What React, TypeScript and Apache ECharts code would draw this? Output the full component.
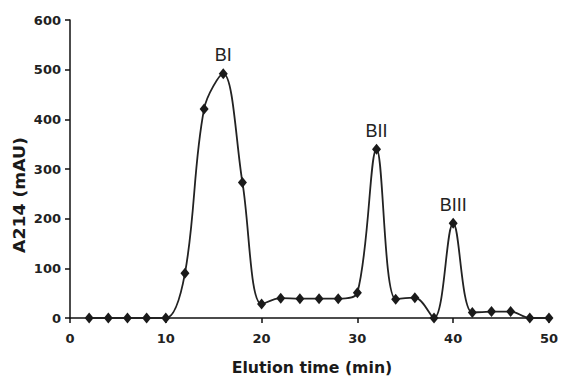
import React, { useEffect, useRef } from "react";
import * as echarts from "echarts";

const timeMin = [2, 4, 6, 8, 10, 12, 14, 16, 18, 20, 22, 24, 26, 28, 30, 32, 34, 36, 38, 40, 42, 44, 46, 48, 50];
const absorbance = [0, 0, 0, 0, 0, 90, 421, 492, 273, 28, 40, 39, 39, 39, 51, 340, 38, 41, 0, 191, 11, 13, 13, 0, 0];
const peakLabels: { [k: number]: string } = { 16: "BI", 32: "BII", 40: "BIII" };
const xTicks = [0, 10, 20, 30, 40, 50];
const yTicks = [0, 100, 200, 300, 400, 500, 600];

export default function App() {
  const ref = useRef<HTMLDivElement>(null);
  useEffect(() => {
    if (!ref.current) return;
    const chart = echarts.init(ref.current, null, { renderer: "svg" });
    const data = timeMin.map((t, i) => {
      const lbl = peakLabels[t];
      const item: any = { value: [t, absorbance[i]] };
      if (lbl) {
        item.label = {
          show: true,
          position: "top",
          distance: 4,
          formatter: lbl,
          fontFamily: "Liberation Sans, Arial, sans-serif",
          fontSize: 18,
          color: "#222",
        };
      }
      return item;
    });
    const labelStyle = {
      fontFamily: "DejaVu Sans, sans-serif",
      fontWeight: "bold" as const,
      fontSize: 13,
      color: "#222",
    };
    chart.setOption({
      animation: false,
      backgroundColor: "#fff",
      grid: { left: 70, right: 9, top: 20, bottom: 60, containLabel: false },
      xAxis: {
        type: "value",
        min: xTicks[0],
        max: xTicks[xTicks.length - 1],
        interval: 10,
        axisLine: { show: true, onZero: false, lineStyle: { color: "#111", width: 1.5 } },
        axisTick: { show: true, length: 5, lineStyle: { color: "#111", width: 1.5 } },
        axisLabel: { ...labelStyle, margin: 14 },
        splitLine: { show: false },
      },
      yAxis: {
        type: "value",
        min: yTicks[0],
        max: yTicks[yTicks.length - 1],
        interval: 100,
        axisLine: { show: true, lineStyle: { color: "#111", width: 1.5 } },
        axisTick: { show: true, length: 5, lineStyle: { color: "#111", width: 1.5 } },
        axisLabel: { ...labelStyle, margin: 9 },
        splitLine: { show: false },
      },
      series: [
        {
          type: "line",
          data,
          smooth: 0.35,
          symbol: "diamond",
          symbolSize: [9, 11],
          itemStyle: { color: "#1a1a1a" },
          lineStyle: { color: "#222", width: 1.8 },
        },
      ],
      graphic: [
        {
          type: "text",
          x: 312,
          y: 368,
          scaleX: 1.05,
          style: {
            text: "Elution time (min)",
            fontFamily: "DejaVu Sans, sans-serif",
            fontWeight: "bold",
            fontSize: 15,
            fill: "#1a1a1a",
            align: "center",
            verticalAlign: "middle",
          },
        },
        {
          type: "text",
          x: 20,
          y: 195,
          rotation: Math.PI / 2,
          scaleX: 1.15,
          style: {
            text: "A214 (mAU)",
            fontFamily: "DejaVu Sans, sans-serif",
            fontWeight: "bold",
            fontSize: 15,
            fill: "#1a1a1a",
            align: "center",
            verticalAlign: "middle",
          },
        },
      ],
    });
    return () => chart.dispose();
  }, []);
  return (
    <div
      ref={ref}
      style={{ position: "fixed", left: 0, top: 0, width: 561, height: 378, background: "#fff" }}
    />
  );
}
